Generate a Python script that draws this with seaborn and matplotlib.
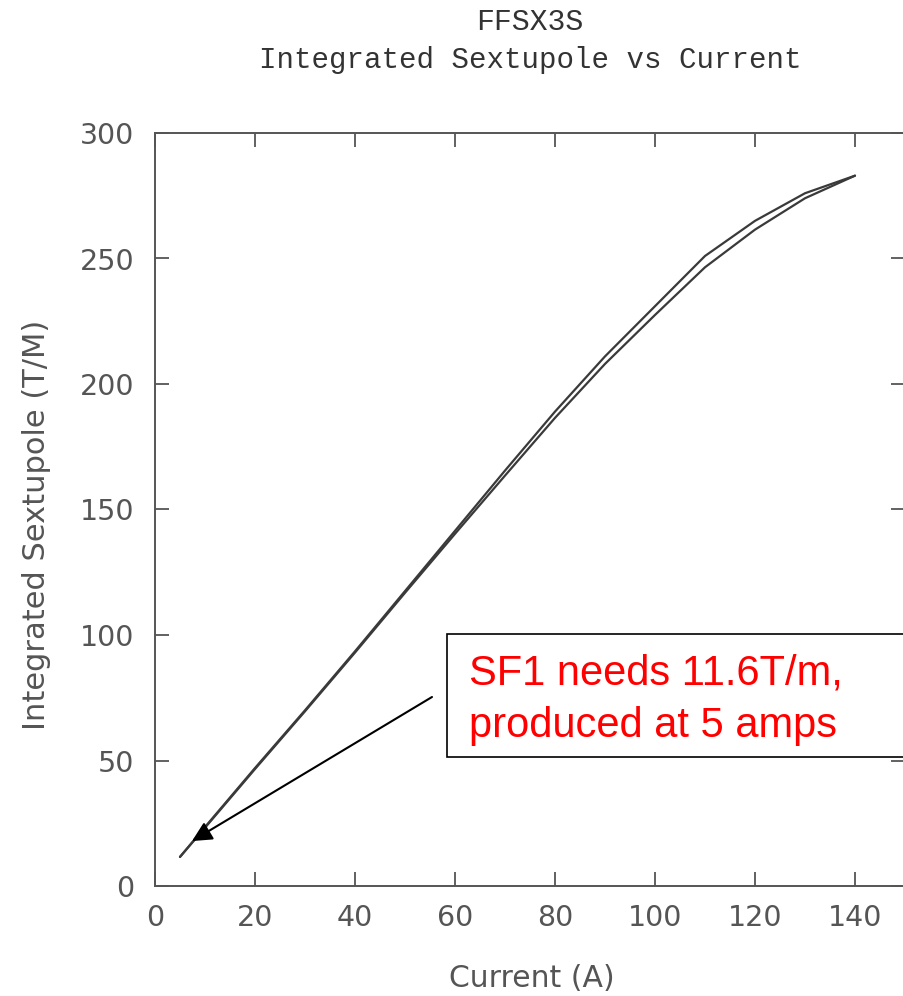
import matplotlib
matplotlib.use("Agg")
import matplotlib.pyplot as plt
import matplotlib.patches as mpatches
import seaborn as sns

# Hysteresis data (current in A, integrated sextupole in T/M)
current = [5, 10, 20, 30, 40, 50, 60, 70, 80, 90, 100, 110, 120, 130, 140]
field_down = [11.6, 23.5, 47, 70, 93.5, 117.5, 141.5, 165.5, 189, 211, 231, 251, 265, 276, 283]
field_up = [11.6, 23.2, 46.6, 69.6, 93, 116.8, 140.3, 163.5, 186.5, 208, 227.5, 246.5, 261.5, 274, 283]

x_ticks = [0, 20, 40, 60, 80, 100, 120, 140]
y_ticks = [0, 50, 100, 150, 200, 250, 300]

note_lines = ["SF1 needs 11.6T/m,", "produced at 5 amps"]
arrow_tip = (7.4, 17.9)
arrow_tail = (55.4, 75.3)


def main():
    sns.set_style("ticks")
    plt.rcParams['font.family'] = ['DejaVu Sans']

    fig = plt.figure(figsize=(9.04, 9.96), dpi=100)
    ax = fig.add_axes([155 / 904, 110 / 996, 750 / 904, 753 / 996])

    line_col = '#3a3a3a'
    sns.lineplot(x=current, y=field_down, ax=ax, color=line_col, lw=1.6,
                 estimator=None, sort=False)
    sns.lineplot(x=current, y=field_up, ax=ax, color=line_col, lw=1.6,
                 estimator=None, sort=False)

    ax.set_xlim(0, 150)
    ax.set_ylim(0, 300)
    ax.set_xticks(x_ticks)
    ax.set_yticks(y_ticks)

    grey = '#555555'
    for side in ['left', 'right', 'top', 'bottom']:
        ax.spines[side].set_visible(True)
        ax.spines[side].set_color(grey)
        ax.spines[side].set_linewidth(1.4)
    ax.tick_params(direction='in', length=10, width=1.3, top=True, right=True,
                   labelsize=20.5, labelcolor=grey, color=grey)
    ax.tick_params(axis='x', pad=13)
    ax.tick_params(axis='y', pad=15)

    ax.set_xlabel("Current (A)", fontsize=21.5, color=grey)
    ax.set_ylabel("Integrated Sextupole (T/M)", fontsize=22, color=grey)
    ax.xaxis.set_label_coords(0.503, -0.104)
    ax.yaxis.set_label_coords(-0.138, 0.48)

    # two-line title in a typewriter face
    fig.text(530 / 904, 1 - 22 / 996, "FFSX3S", ha='center', va='center',
             fontsize=21.5, family='Liberation Mono', color='#333333')
    fig.text(530 / 904, 1 - 60 / 996, "Integrated Sextupole vs Current",
             ha='center', va='center', fontsize=21, family='Liberation Mono',
             color='#333333')

    # annotation arrow
    ax.annotate("", xy=arrow_tip, xytext=arrow_tail,
                arrowprops=dict(arrowstyle='-|>', color='black', lw=1.5,
                                mutation_scale=30, shrinkA=0, shrinkB=0))

    # boxed red note, running off the right edge
    box = mpatches.Rectangle((447 / 904, 1 - 757 / 996), 0.6, 123 / 996,
                             transform=fig.transFigure, facecolor='white',
                             edgecolor='black', lw=1.2, clip_on=False, zorder=5)
    fig.add_artist(box)
    fig.text(469 / 904, 1 - 685 / 996, note_lines[0], ha='left', va='baseline',
             fontsize=30, family='Liberation Sans', color='#ff0000', zorder=6)
    fig.text(469 / 904, 1 - 737 / 996, note_lines[1], ha='left', va='baseline',
             fontsize=30, family='Liberation Sans', color='#ff0000', zorder=6)

    fig.savefig("out.png", dpi=100, facecolor='white')
    plt.close(fig)


if __name__ == "__main__":
    main()
